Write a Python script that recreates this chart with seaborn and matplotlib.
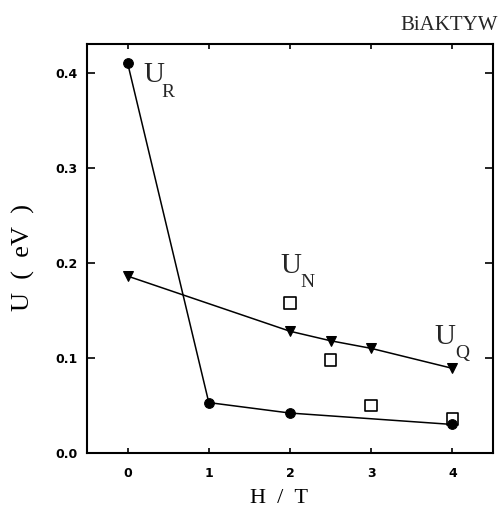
import matplotlib
matplotlib.use("Agg")
import matplotlib.pyplot as plt
import seaborn as sns

# Field dependence of the energy barriers
h_r = [0, 1, 2, 4]
u_r = [0.410, 0.053, 0.042, 0.030]

h_q = [0, 2, 2.5, 3, 4]
u_q = [0.186, 0.128, 0.118, 0.110, 0.089]

h_n = [2, 2.5, 3, 4]
u_n = [0.158, 0.098, 0.050, 0.036]

x_ticks = [0, 1, 2, 3, 4]
y_ticks = [0.0, 0.1, 0.2, 0.3, 0.4]

sns.set_style("ticks")
serif = "Liberation Serif"
EN = "\u2002"  # wide word gap used in the axis titles

fig = plt.figure(figsize=(4.98, 5.11), dpi=100)
ax = fig.add_axes([0.1747, 0.1135, 0.8153, 0.8004])

sns.lineplot(x=h_r, y=u_r, ax=ax, color="black", lw=1.1, marker="o",
             markersize=7, markeredgecolor="black", markerfacecolor="black")
sns.lineplot(x=h_q, y=u_q, ax=ax, color="black", lw=1.1, marker="v",
             markersize=7, markeredgecolor="black", markerfacecolor="black")
sns.scatterplot(x=h_n, y=u_n, ax=ax, marker="s", s=70, facecolor="none",
                edgecolor="black", linewidth=1.2)

ax.set_xlim(-0.5, 4.5)
ax.set_ylim(0.0, 0.43)
ax.set_xticks(x_ticks)
ax.set_xticklabels([str(t) for t in x_ticks])
ax.set_yticks(y_ticks)
ax.set_yticklabels([f"{t:.1f}" for t in y_ticks])

for s in ax.spines.values():
    s.set_linewidth(1.5)
    s.set_color("black")
ax.tick_params(axis="both", direction="in", top=True, right=True,
               labelsize=9, width=1.2, color="black", labelcolor="black")
ax.tick_params(axis="x", length=3.5, pad=10)
ax.tick_params(axis="y", length=6, pad=7)
for lab in ax.get_xticklabels() + ax.get_yticklabels():
    lab.set_fontweight("bold")

ax.set_xlabel(f"H{EN}/{EN}T", family=serif, fontsize=16, color="black")
ax.set_ylabel(f"U{EN}({EN}eV{EN})", family=serif, fontsize=19, color="black")
ax.xaxis.set_label_coords(0.473, -0.088)
ax.yaxis.set_label_coords(-0.128, 0.477)

# Curve labels with subscripts
def ulabel(x, y, sub, dx, dy):
    ax.text(x, y, "U", family=serif, fontsize=21, ha="left", va="baseline")
    ax.text(x + dx, y - dy, sub, family=serif, fontsize=14,
            ha="left", va="baseline")

ulabel(0.20, 0.390, "R", 0.21, 0.016)
ulabel(1.88, 0.189, "N", 0.25, 0.015)
ulabel(3.78, 0.115, "Q", 0.25, 0.015)

fig.text(0.999, 0.942, "BiAKTYW", family=serif, fontsize=15,
         ha="right", va="baseline")

fig.savefig("out.png", dpi=100)
